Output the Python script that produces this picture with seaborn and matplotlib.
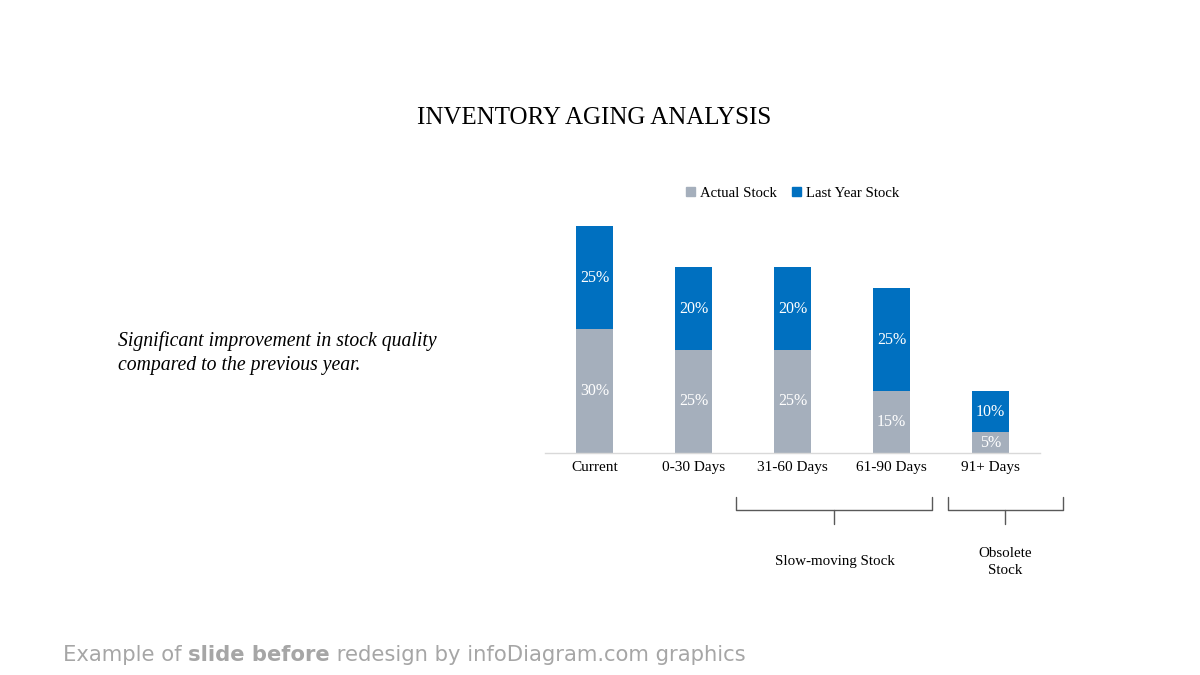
import numpy as np
import matplotlib.pyplot as plt
import seaborn as sns
from matplotlib.patches import Patch

# Dữ liệu
categories = ['Current', '0-30 Days', '31-60 Days', '61-90 Days', '91+ Days']
actual_stock = [30, 25, 25, 15, 5]
last_year_stock = [25, 20, 20, 25, 10]

gray = '#A5AFBC'
blue = '#0070C0'

sns.set_theme(style='white')
plt.rcParams['font.family'] = ['Liberation Serif', 'DejaVu Serif']
plt.rcParams['text.color'] = 'black'

fig = plt.figure(figsize=(12, 6.75), dpi=100)
ax = fig.add_axes([545 / 1200, 222 / 675, 495 / 1200, 227 / 675])

sns.barplot(x=categories, y=actual_stock, color=gray, width=0.37,
            saturation=1, ax=ax, linewidth=0)
sns.barplot(x=categories, y=last_year_stock, color=blue, width=0.37,
            saturation=1, ax=ax, linewidth=0, bottom=actual_stock)

for cont, vals in zip(ax.containers, [actual_stock, last_year_stock]):
    ax.bar_label(cont, labels=[f'{v}%' for v in vals], label_type='center',
                 color='white', fontsize=11.5)

ax.set_xlim(-0.5, 4.5)
ax.set_ylim(0, 55)
ax.set_yticks([])
ax.set_ylabel('')
for s in ['top', 'right', 'left']:
    ax.spines[s].set_visible(False)
ax.spines['bottom'].set_color('#D9D9D9')
ax.spines['bottom'].set_linewidth(1)
ax.tick_params(axis='x', length=0, labelsize=11, colors='black', pad=6)

handles = [Patch(color=gray, label='Actual Stock'), Patch(color=blue, label='Last Year Stock')]
ax.legend(handles=handles, loc='center', bbox_to_anchor=(0.50, 1.145), ncol=2,
          frameon=False, fontsize=10.6, handlelength=0.6, handleheight=0.6,
          handletextpad=0.35, columnspacing=1.0)

# Tiêu đề và chú thích
fig.text(594 / 1200, 1 - 118 / 675, 'INVENTORY AGING ANALYSIS', ha='center', va='center',
         fontsize=18, color='black')
fig.text(118 / 1200, 1 - 353 / 675,
         'Significant improvement in stock quality\ncompared to the previous year.',
         ha='left', va='center', fontsize=14.2, style='italic', linespacing=1.32,
         color='black')

# Ngoặc nhóm
trans = ax.get_xaxis_transform()
yb = (453 - 510) / 227
ye = (453 - 497) / 227
yt = (453 - 524) / 227
for x0, x1, label, ylab in [(1.434, 3.414, 'Slow-moving Stock', (453 - 561) / 227),
                             (3.566, 4.737, 'Obsolete\nStock', (453 - 562) / 227)]:
    xm = (x0 + x1) / 2
    ax.plot([x0, x0, x1, x1], [ye, yb, yb, ye], color='#595959', lw=1,
            transform=trans, clip_on=False)
    ax.plot([xm, xm], [yb, yt], color='#595959', lw=1, transform=trans, clip_on=False)
    ax.text(xm, ylab, label, transform=trans, ha='center', va='center',
            fontsize=10.8, linespacing=1.4)

# Chân trang
ffam = ['DejaVu Sans']
fs = 15.2
t1 = fig.text(63 / 1200, 1 - 655 / 675, 'Example of ', ha='left', va='center',
              fontsize=fs, color='#A6A6A6', family=ffam)
t2 = ax.annotate('slide before', xy=(1, 0), xycoords=t1, ha='left', va='bottom',
                 fontsize=fs, color='#A6A6A6', family=ffam,
                 fontweight='bold', annotation_clip=False)
ax.annotate(' redesign by infoDiagram.com graphics', xy=(1, 0), xycoords=t2, ha='left',
            va='bottom', fontsize=fs, color='#A6A6A6', family=ffam,
            annotation_clip=False)

fig.savefig('out.png', dpi=100)
